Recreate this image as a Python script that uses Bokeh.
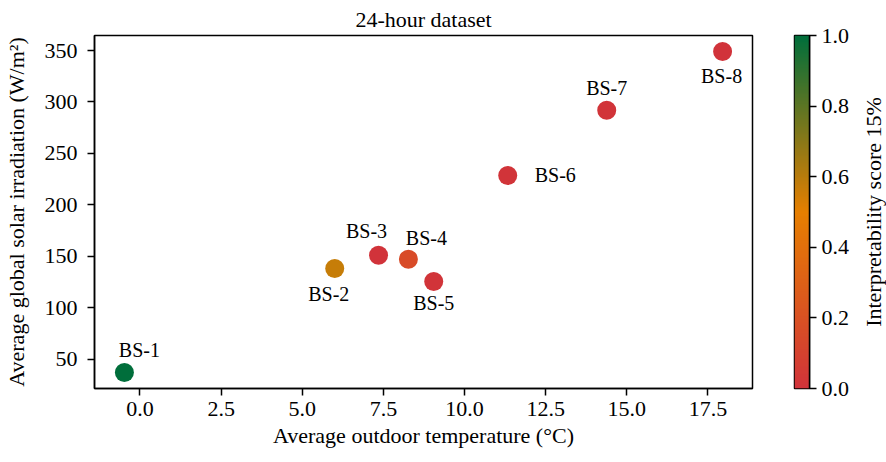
import numpy as np
from bokeh.plotting import figure
from bokeh.models import (ColumnDataSource, Range1d, FixedTicker, PrintfTickFormatter,
                          LinearColorMapper, Title)
from bokeh.layouts import row
from bokeh.core.properties import value
from bokeh.transform import linear_cmap
from bokeh.embed import file_html
from bokeh.resources import INLINE

# ---- data ----
stations = ["BS-1", "BS-2", "BS-3", "BS-4", "BS-5", "BS-6", "BS-7", "BS-8"]
temperature = [-0.48, 6.0, 7.35, 8.27, 9.05, 11.33, 14.38, 17.95]
irradiation = [37, 138, 151, 147, 125.5, 228.5, 292, 349]
score = [1.0, 0.57, 0.0, 0.16, 0.01, 0.01, 0.01, 0.0]
x_ticks = [0.0, 2.5, 5.0, 7.5, 10.0, 12.5, 15.0, 17.5]
y_ticks = [50, 100, 150, 200, 250, 300, 350]
cb_ticks = [0.0, 0.2, 0.4, 0.6, 0.8, 1.0]

# ---- styles (label placement in screen px) ----
label_dx = [15, -6, -12, 18, 0, 27, 0, -1]
label_dy = [-22, 25, -24, -21, 22, 0, -22, 24]
label_align = ["center", "center", "center", "center", "center", "left", "center", "center"]

FONT = "Liberation Serif"
TICK_SIZE = "22px"
TITLE_SIZE = "22px"
AXIS_LABEL_SIZE = "22px"
POINT_LABEL_SIZE = "20px"

# colormap red -> orange -> green
def interp_palette(stops, n=256):
    cols = []
    for i in range(n):
        t = i / (n - 1)
        seg = min(int(t * (len(stops) - 1)), len(stops) - 2)
        lt = t * (len(stops) - 1) - seg
        a, b = stops[seg], stops[seg + 1]
        c = [round(a[k] + (b[k] - a[k]) * lt) for k in range(3)]
        cols.append("#%02x%02x%02x" % tuple(c))
    return cols

palette = interp_palette([(209, 51, 58), (230, 127, 0), (0, 110, 59)])

src = ColumnDataSource(dict(x=temperature, y=irradiation, s=score, name=stations,
                            dx=label_dx, dy=label_dy, al=label_align))

xmin, xmax = min(temperature), max(temperature)
ymin, ymax = min(irradiation), max(irradiation)
xm = (xmax - xmin) * 0.05
ym = (ymax - ymin) * 0.05

H = 462
TOP, BOTTOM = 34, 74

p = figure(width=770, height=H, x_range=Range1d(xmin - xm, xmax + xm),
           y_range=Range1d(ymin - ym, ymax + ym),
           output_backend="svg", toolbar_location=None,
           min_border_left=94, min_border_right=18, min_border_top=TOP, min_border_bottom=BOTTOM)
p.title = Title(text="24-hour dataset", align="center", text_font=FONT,
                text_font_size=TITLE_SIZE, text_font_style="normal", text_color="black",
                standoff=8)
p.grid.visible = False
p.outline_line_color = "black"
p.outline_line_width = 1.5
p.outline_line_alpha = 1


def style_axis(axes, standoff):
    axes.axis_line_width = 1.5
    axes.axis_line_color = "black"
    axes.major_tick_line_width = 1.5
    axes.major_tick_line_color = "black"
    axes.major_tick_out = 7
    axes.major_tick_in = 0
    axes.minor_tick_line_color = None
    axes.major_label_text_font = FONT
    axes.major_label_text_font_size = TICK_SIZE
    axes.major_label_text_color = "black"
    axes.axis_label_text_font = FONT
    axes.axis_label_text_font_size = AXIS_LABEL_SIZE
    axes.axis_label_text_font_style = "normal"
    axes.axis_label_text_color = "black"
    axes.major_label_standoff = standoff


style_axis(p.xaxis, 6)
style_axis(p.yaxis, 10)

p.xaxis.ticker = FixedTicker(ticks=x_ticks)
p.xaxis.formatter = PrintfTickFormatter(format="%.1f")
p.yaxis.ticker = FixedTicker(ticks=y_ticks)
p.yaxis.formatter = PrintfTickFormatter(format="%d")
p.xaxis.axis_label = "Average outdoor temperature (°C)"
p.yaxis.axis_label = "Average global solar irradiation (W/m²)"
p.xaxis.axis_label_standoff = 4
p.yaxis.axis_label_standoff = 13

p.scatter("x", "y", source=src, size=19, line_color=None,
          fill_color=linear_cmap("s", palette, 0, 1))
p.text("x", "y", text="name", source=src, x_offset="dx", y_offset="dy",
       text_align="al", text_baseline="middle", text_font=value(FONT),
       text_font_size=POINT_LABEL_SIZE, text_color="black")

# ---- colorbar figure ----
cb = figure(width=82, height=H, x_range=Range1d(0, 1), y_range=Range1d(0, 1),
            y_axis_location="right", x_axis_location=None,
            output_backend="svg", toolbar_location=None,
            min_border_left=24, min_border_right=40, min_border_top=TOP, min_border_bottom=BOTTOM)
cb.grid.visible = False
cb.outline_line_color = "black"
cb.outline_line_width = 1.5
mapper = LinearColorMapper(palette=palette, low=0, high=1)
grad = np.linspace(0, 1, 256).reshape(256, 1)
cb.image(image=[grad], x=0, y=0, dw=1, dh=1, color_mapper=mapper)
style_axis(cb.yaxis, 5)
cb.yaxis.ticker = FixedTicker(ticks=cb_ticks)
cb.yaxis.formatter = PrintfTickFormatter(format="%.1f")

# ---- colorbar label (left axis of a thin helper figure, reads bottom-to-top) ----
lab = figure(width=34, height=H, x_range=Range1d(0, 1), y_range=Range1d(0, 1),
             x_axis_location=None, output_backend="svg", toolbar_location=None,
             min_border_left=33, min_border_right=0, min_border_top=TOP, min_border_bottom=BOTTOM)
lab.grid.visible = False
lab.outline_line_color = None
la = lab.yaxis[0]
la.ticker = FixedTicker(ticks=[])
la.axis_line_color = None
la.major_tick_out = 0
la.major_tick_in = 0
la.minor_tick_line_color = None
la.major_label_standoff = 0
la.axis_label = "Interpretability score 15%"
la.axis_label_standoff = 0
la.axis_label_text_font = FONT
la.axis_label_text_font_size = AXIS_LABEL_SIZE
la.axis_label_text_font_style = "normal"
la.axis_label_text_color = "black"

layout = row(p, cb, lab)
open("out.html", "w").write(file_html(layout, INLINE))
